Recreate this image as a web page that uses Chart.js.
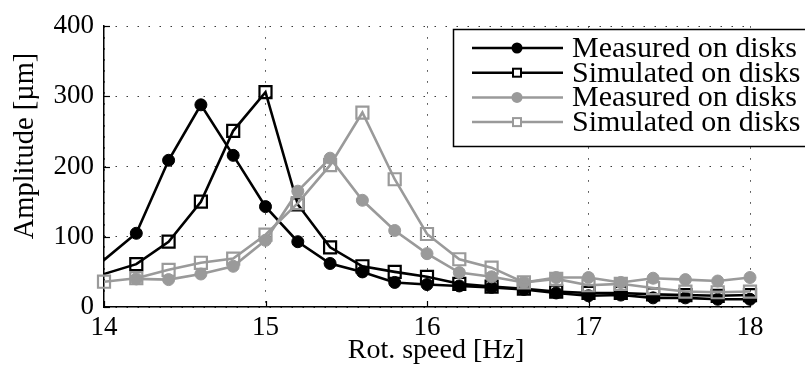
<!DOCTYPE html>
<html>
<head>
<meta charset="utf-8">
<script src="https://cdn.jsdelivr.net/npm/chart.js@4/dist/chart.umd.min.js"></script>
<style>
  html, body { margin: 0; padding: 0; background: #fff; }
  #c { display: block; }
</style>
</head>
<body>
<canvas id="c" width="805" height="369"></canvas>
<script>
// Rotational speed samples (Hz) for each series
const speedBlack   = [13.8, 14.2, 14.4, 14.6, 14.8, 15.0, 15.2, 15.4, 15.6, 15.8, 16.0, 16.2, 16.4, 16.6, 16.8, 17.0, 17.2, 17.4, 17.6, 17.8, 18.0];
const speedGrayMeas = [14.2, 14.4, 14.6, 14.8, 15.0, 15.2, 15.4, 15.6, 15.8, 16.0, 16.2, 16.4, 16.6, 16.8, 17.0, 17.2, 17.4, 17.6, 17.8, 18.0];
const speedGraySim  = [14.0, 14.2, 14.4, 14.6, 14.8, 15.0, 15.2, 15.4, 15.6, 15.8, 16.0, 16.2, 16.4, 16.6, 16.8, 17.0, 17.2, 17.4, 17.6, 17.8, 18.0];

// Amplitudes (µm)
const measuredBlack  = [29, 105, 209, 288, 216, 143, 93, 62, 50, 35, 32, 30, 28, 25, 20, 16, 17, 13, 13, 11, 11];
const simulatedBlack = [33, 61, 93, 150, 251, 306, 146, 85, 58, 50, 43, 33, 29, 26, 22, 20, 20, 18, 17, 16, 17];
const measuredGray   = [40, 39, 47, 58, 95, 165, 212, 152, 109, 76, 49, 43, 35, 42, 42, 35, 41, 39, 37, 42];
const simulatedGray  = [36, 41, 53, 63, 69, 103, 148, 202, 277, 182, 104, 68, 56, 35, 40, 31, 33, 27, 22, 21, 22];

// Axis ticks
const xTicks = [14, 15, 16, 17, 18];
const yTicks = [0, 100, 200, 300, 400];

const seriesLabels = ['Measured on disks', 'Simulated on disks', 'Measured on disks', 'Simulated on disks'];
const xTitle = 'Rot. speed [Hz]';
const yTitle = 'Amplitude [µm]';

const FONT = "'Liberation Serif', 'Times New Roman', serif";
const BLACK = '#000000';
const GRAY = '#9a9a9a';

const pts = (xs, ys) => xs.map((x, i) => ({ x: x, y: ys[i] }));

const clipLeft = { left: 0, top: false, right: false, bottom: false };

const datasets = [
  {
    label: seriesLabels[0], data: pts(speedBlack, measuredBlack),
    borderColor: BLACK, backgroundColor: BLACK, borderWidth: 2.6,
    pointStyle: 'circle', pointRadius: 6, pointBackgroundColor: BLACK,
    pointBorderColor: BLACK, pointBorderWidth: 1, clip: clipLeft, order: 4
  },
  {
    label: seriesLabels[1], data: pts(speedBlack, simulatedBlack),
    borderColor: BLACK, backgroundColor: 'rgba(0,0,0,0)', borderWidth: 2.6,
    pointStyle: 'rect', pointRadius: 8.5, pointBackgroundColor: 'rgba(0,0,0,0)',
    pointBorderColor: BLACK, pointBorderWidth: 2.2, clip: clipLeft, order: 3
  },
  {
    label: seriesLabels[2], data: pts(speedGrayMeas, measuredGray),
    borderColor: GRAY, backgroundColor: GRAY, borderWidth: 2.6,
    pointStyle: 'circle', pointRadius: 6, pointBackgroundColor: GRAY,
    pointBorderColor: GRAY, pointBorderWidth: 1, clip: false, order: 2
  },
  {
    label: seriesLabels[3], data: pts(speedGraySim, simulatedGray),
    borderColor: GRAY, backgroundColor: 'rgba(0,0,0,0)', borderWidth: 2.6,
    pointStyle: 'rect', pointRadius: 8.5, pointBackgroundColor: 'rgba(0,0,0,0)',
    pointBorderColor: GRAY, pointBorderWidth: 2.2, clip: false, order: 1
  }
];

// Inward tick marks, axis titles and the boxed legend
const decorations = {
  id: 'decorations',
  afterDatasetsDraw(chart) {
    const ctx = chart.ctx;
    const xs = chart.scales.x, ys = chart.scales.y;
    const area = chart.chartArea;
    ctx.save();
    ctx.strokeStyle = BLACK;
    ctx.lineWidth = 1.2;
    const tl = 6;
    xTicks.forEach(v => {
      const px = Math.round(xs.getPixelForValue(v)) + 0.5;
      ctx.beginPath(); ctx.moveTo(px, area.bottom); ctx.lineTo(px, area.bottom - tl); ctx.stroke();
    });
    yTicks.forEach(v => {
      const py = Math.round(ys.getPixelForValue(v)) + 0.5;
      ctx.beginPath(); ctx.moveTo(area.left, py); ctx.lineTo(area.left + tl, py); ctx.stroke();
    });

    // axis titles
    ctx.fillStyle = BLACK;
    ctx.textAlign = 'center';
    ctx.textBaseline = 'middle';
    ctx.font = '28px ' + FONT;
    ctx.fillText(xTitle, 436, 351);
    ctx.save();
    ctx.translate(26, 146);
    ctx.rotate(-Math.PI / 2);
    ctx.font = '28.5px ' + FONT;
    ctx.fillText(yTitle, 0, 0);
    ctx.restore();

    // legend box
    const bx = 453.5, by = 29.5, bw = 370, bh = 117;
    ctx.fillStyle = '#fff';
    ctx.fillRect(bx, by, bw, bh);
    ctx.strokeStyle = BLACK;
    ctx.lineWidth = 1.5;
    ctx.strokeRect(bx, by, bw, bh);
    chart.data.datasets.forEach((ds, i) => {
      const cy = 48 + i * 24.7;
      ctx.strokeStyle = ds.borderColor;
      ctx.lineWidth = 2.5;
      ctx.beginPath(); ctx.moveTo(472, cy); ctx.lineTo(563, cy); ctx.stroke();
      if (ds.pointStyle === 'circle') {
        ctx.fillStyle = ds.pointBackgroundColor;
        ctx.beginPath(); ctx.arc(517, cy, 5.5, 0, Math.PI * 2); ctx.fill();
      } else {
        ctx.fillStyle = '#fff';
        ctx.fillRect(513, cy - 4, 8, 8);
        ctx.lineWidth = 2;
        ctx.strokeRect(513, cy - 4, 8, 8);
      }
      ctx.fillStyle = BLACK;
      ctx.textAlign = 'left';
      ctx.textBaseline = 'middle';
      ctx.font = '30px ' + FONT;
      ctx.fillText(ds.label, 572, cy + 1);
    });
    ctx.restore();
  }
};

const gridStyle = { color: '#3a3a3a', lineWidth: 1, drawTicks: false };
const borderStyle = { display: true, color: BLACK, width: 1.5, dash: [1.5, 9.5] };

new Chart(document.getElementById('c'), {
  type: 'line',
  data: { datasets: datasets },
  options: {
    responsive: false,
    animation: false,
    layout: { padding: { top: 19, right: 55, left: 0, bottom: 0 } },
    elements: { line: { tension: 0 } },
    plugins: { legend: { display: false }, tooltip: { enabled: false } },
    scales: {
      x: {
        type: 'linear', min: 14, max: 18,
        afterBuildTicks: s => { s.ticks = xTicks.map(v => ({ value: v })); },
        ticks: { font: { family: FONT, size: 27 }, color: BLACK, padding: 5, maxRotation: 0 },
        grid: gridStyle, border: borderStyle,
        afterFit: s => { s.height = 62; }
      },
      y: {
        type: 'linear', min: 0, max: 400,
        afterBuildTicks: s => { s.ticks = yTicks.map(v => ({ value: v })); },
        ticks: { font: { family: FONT, size: 27 }, color: BLACK, padding: 10 },
        grid: gridStyle, border: borderStyle,
        afterFit: s => { s.width = 104; }
      }
    }
  },
  plugins: [decorations]
});
</script>
</body>
</html>
